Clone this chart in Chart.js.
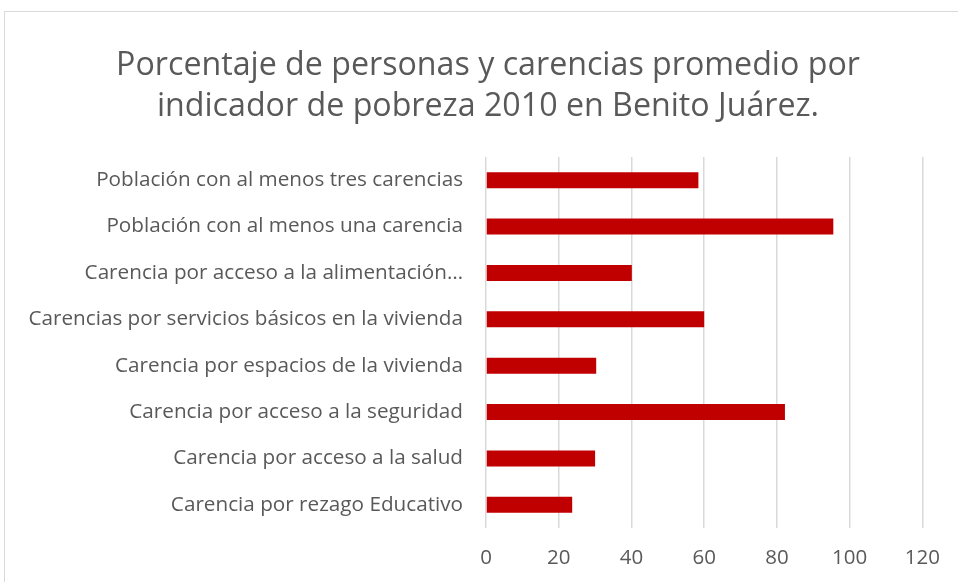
<!DOCTYPE html>
<html>
<head>
<meta charset="utf-8">
<script src="https://cdn.jsdelivr.net/npm/chart.js@4"></script>
<style>
  html, body { margin: 0; padding: 0; background: #ffffff; }
  #wrap { width: 958px; height: 582px; position: relative; }
</style>
</head>
<body>
<div id="wrap"><canvas id="chart" width="958" height="582"></canvas></div>
<script>
// Indicadores de pobreza (de arriba hacia abajo)
const categories = [
  "Población con al menos tres carencias",
  "Población con al menos una carencia",
  "Carencia por acceso a la alimentación…",
  "Carencias por servicios básicos en la vivienda",
  "Carencia por espacios de la vivienda",
  "Carencia por acceso a la seguridad",
  "Carencia por acceso a la salud",
  "Carencia por rezago Educativo"
];

// Porcentaje de personas
const values = [58.4, 95.5, 40.1, 60.0, 30.3, 82.2, 30.0, 23.7];

// Eje horizontal
const xTicks = [0, 20, 40, 60, 80, 100, 120];

const titleLines = [
  "Porcentaje de personas y carencias promedio por",
  "indicador de pobreza 2010 en Benito Juárez."
];

const gris = "#595959";
const fuente = "'Open Sans'";

// marco gris y título centrado en el marco (no en el área con padding)
const marco = {
  id: "marco",
  beforeDraw(chart) {
    const ctx = chart.ctx;
    ctx.save();
    ctx.fillStyle = "#ffffff";
    ctx.fillRect(0, 0, chart.width, chart.height);
    ctx.strokeStyle = "#d9d9d9";
    ctx.lineWidth = 1;
    ctx.strokeRect(4.5, 11.5, 980, 600);

    ctx.fillStyle = gris;
    ctx.font = "32.2px " + fuente;
    ctx.textAlign = "center";
    ctx.textBaseline = "middle";
    titleLines.forEach((t, i) => ctx.fillText(t, 488, 66 + i * 41));
    ctx.restore();
  }
};

const ctx = document.getElementById("chart").getContext("2d");

new Chart(ctx, {
  type: "bar",
  data: {
    labels: categories,
    datasets: [{
      data: values,
      backgroundColor: "#C00000",
      borderWidth: 0,
      barPercentage: 0.69,
      categoryPercentage: 0.5
    }]
  },
  options: {
    indexAxis: "y",
    responsive: false,
    animation: false,
    layout: { padding: { left: 10, right: 34, top: 157, bottom: 0 } },
    plugins: {
      legend: { display: false },
      tooltip: { enabled: false },
      title: { display: false }
    },
    scales: {
      x: {
        min: 0,
        max: 120,
        afterBuildTicks(scale) {
          scale.ticks = xTicks.map(v => ({ value: v }));
        },
        afterFit(scale) { scale.height = 54; },
        grid: { color: "#d9d9d9", lineWidth: 1.5, drawTicks: false },
        border: { display: false },
        ticks: {
          color: gris,
          padding: 18,
          font: { family: fuente, size: 20.5 }
        }
      },
      y: {
        afterFit(scale) { scale.width = 476; },
        grid: { display: false, drawTicks: false },
        border: { display: false },
        ticks: {
          color: gris,
          padding: 23,
          font: { family: fuente, size: 20.7 }
        }
      }
    }
  },
  plugins: [marco]
});
</script>
</body>
</html>
